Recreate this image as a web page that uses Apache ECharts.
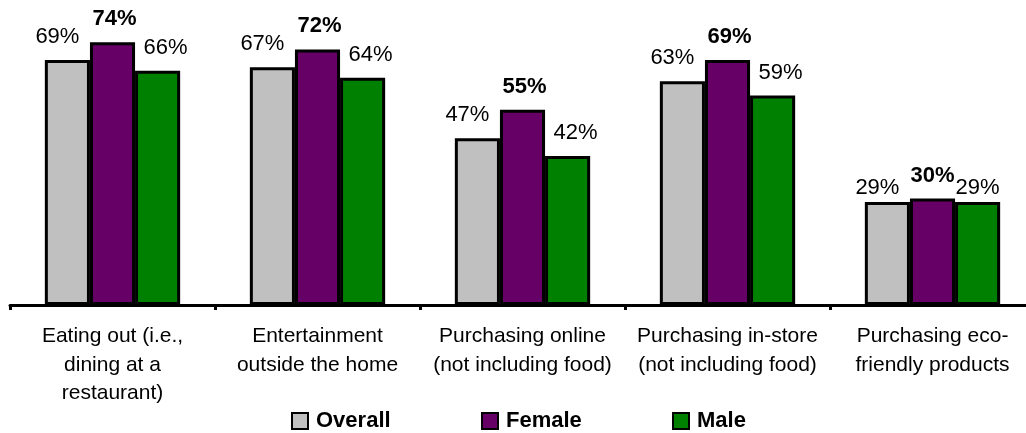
<!DOCTYPE html>
<html>
<head>
<meta charset="utf-8">
<script src="https://cdn.jsdelivr.net/npm/echarts@6/dist/echarts.min.js"></script>
<style>
html,body{margin:0;padding:0;background:#fff;overflow:hidden;width:1026px;height:433px;}
#c{width:1035px;height:433px;}
</style>
</head>
<body>
<div id="c"></div>
<script>
const categories = [
  "Eating out (i.e.,\ndining at a\nrestaurant)",
  "Entertainment\noutside the home",
  "Purchasing online\n(not including food)",
  "Purchasing in-store\n(not including food)",
  "Purchasing eco-\nfriendly products"
];
const seriesNames = ["Overall", "Female", "Male"];
const overall = [69, 67, 47, 63, 29];
const female = [74, 72, 55, 69, 30];
const male = [66, 64, 42, 59, 29];

const FONT = "'Liberation Sans', Arial, sans-serif";
const colors = ["#C0C0C0", "#660066", "#008000"];
const labelOffsets = [[-10, 0], [2, 0], [8, 0]];
const ecoOffsets = [[-10, 9], [0, 0], [0, 9]];

function mkSeries(name, values, idx) {
  return {
    name: name,
    type: 'bar',
    barGap: '0%',
    barCategoryGap: '34%',
    itemStyle: { color: colors[idx], borderColor: '#000', borderWidth: 3 },
    label: {
      show: true,
      position: 'top',
      distance: 12,
      formatter: '{c}%',
      color: '#000',
      fontFamily: FONT,
      fontSize: 22,
      fontWeight: idx === 1 ? 'bold' : 'normal',
      offset: labelOffsets[idx]
    },
    data: values.map((v, i) => i === 4 ? { value: v, label: { offset: ecoOffsets[idx] } } : v)
  };
}

const legendLefts = [291, 481, 672];
const chart = echarts.init(document.getElementById('c'));
chart.setOption({
  animation: false,
  grid: { left: 10, right: 0, top: 21, bottom: 128, containLabel: false },
  legend: seriesNames.map((n, i) => ({
    data: [n],
    left: legendLefts[i],
    top: 410,
    padding: 0,
    itemWidth: 16,
    itemHeight: 16,
    icon: 'rect',
    textStyle: { fontFamily: FONT, fontSize: 22, fontWeight: 'bold', color: '#000', padding: [0, 0, 0, 3] }
  })),
  xAxis: {
    type: 'category',
    data: categories,
    axisLine: { lineStyle: { color: '#000', width: 3 } },
    axisTick: { show: true, length: 5, lineStyle: { color: '#000', width: 3 } },
    axisLabel: {
      interval: 0,
      margin: 17,
      color: '#000',
      fontFamily: FONT,
      fontSize: 21,
      lineHeight: 28.5,
      align: 'center'
    }
  },
  yAxis: { type: 'value', min: 0, max: 80, show: false, splitLine: { show: false } },
  series: [
    mkSeries(seriesNames[0], overall, 0),
    mkSeries(seriesNames[1], female, 1),
    mkSeries(seriesNames[2], male, 2)
  ]
});
</script>
</body>
</html>
